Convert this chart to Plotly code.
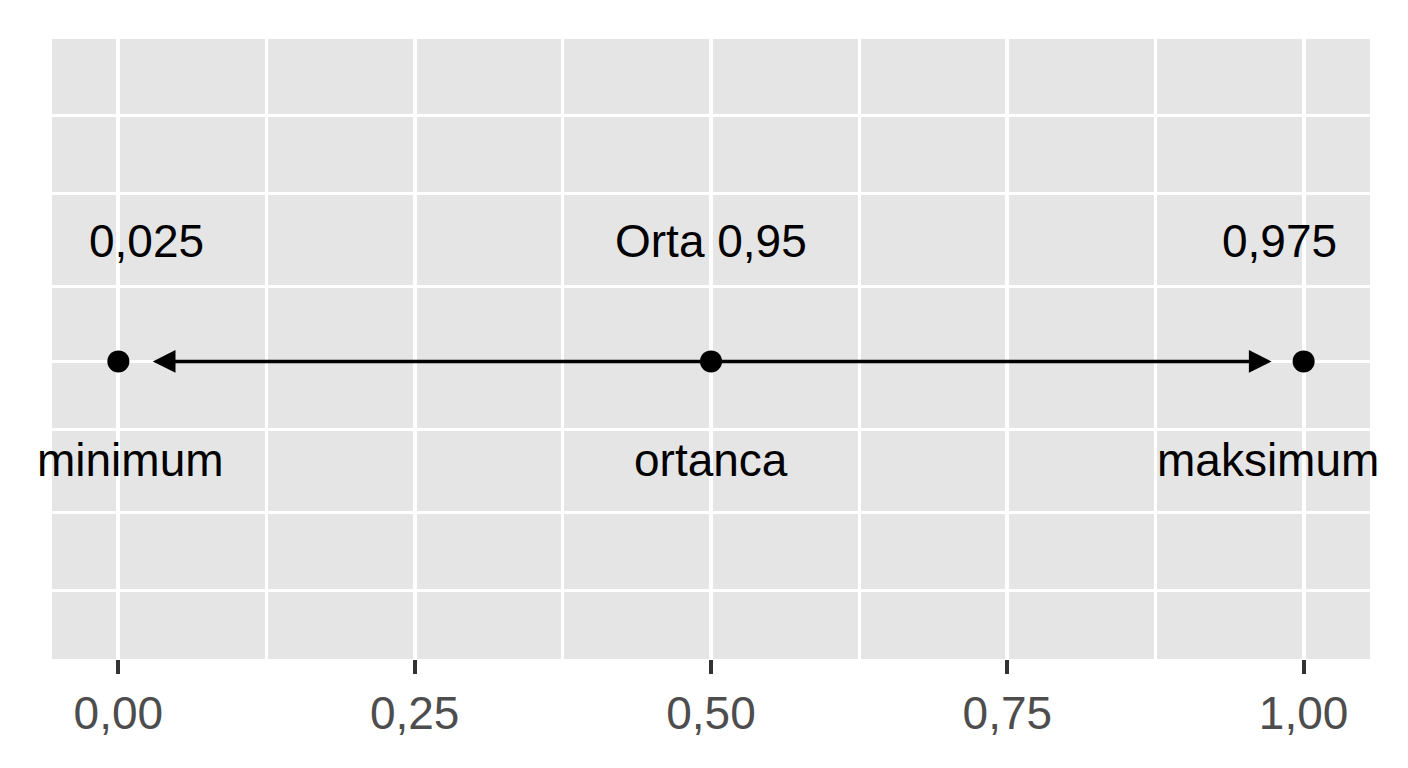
import plotly.graph_objects as go

pt_x = [0.0, 0.5, 1.0]
pt_y = [0.48, 0.48, 0.48]
top_labels = ["0,025", "Orta 0,95", "0,975"]
top_x = [0.024, 0.5, 0.98]
bot_labels = ["minimum", "ortanca", "maksimum"]
bot_x = [0.01, 0.5, 0.97]
arrow_ends = [0.029, 0.973]
xticks = [0, 0.25, 0.5, 0.75, 1.0]
xticklabels = ["0,00", "0,25", "0,50", "0,75", "1,00"]
xminor = [0.125, 0.375, 0.625, 0.875]
ygrid = [0.111, 0.237, 0.370, 0.480, 0.601, 0.751, 0.876]

fig = go.Figure()
fig.add_trace(go.Scatter(x=pt_x, y=pt_y, mode="markers",
                         marker=dict(size=22, color="black"), showlegend=False))
for xe in arrow_ends:
    fig.add_annotation(x=xe, y=pt_y[1], ax=pt_x[1], ay=pt_y[1], xref="x", yref="y",
                       axref="x", ayref="y", showarrow=True, arrowhead=2,
                       arrowsize=1.3, arrowwidth=3.5, arrowcolor="black", text="")
for t, x in zip(top_labels, top_x):
    fig.add_annotation(x=x, y=0.674, text=t, showarrow=False,
                       font=dict(size=46, color="black"))
for t, x in zip(bot_labels, bot_x):
    fig.add_annotation(x=x, y=0.321, text=t, showarrow=False,
                       font=dict(size=46, color="black"))

fig.update_xaxes(range=[-0.056, 1.056], tickvals=xticks, ticktext=xticklabels,
                 showgrid=True, gridcolor="white", gridwidth=4, zeroline=False,
                 ticks="outside", ticklen=14, tickwidth=4, tickcolor="#333333",
                 tickfont=dict(size=46, color="#4d4d4d"),
                 minor=dict(tickvals=xminor, showgrid=True, gridcolor="white",
                            gridwidth=2.5, ticks=""))
fig.update_yaxes(range=[0, 1], tickvals=ygrid, showticklabels=False,
                 showgrid=True, gridcolor="white", gridwidth=3, zeroline=False)
fig.update_layout(width=1408, height=768, plot_bgcolor="#e5e5e5",
                  paper_bgcolor="white",
                  font=dict(family="Liberation Sans, Arial, sans-serif"),
                  margin=dict(l=44, r=46, t=31, b=117))
fig.write_html("out.html")
